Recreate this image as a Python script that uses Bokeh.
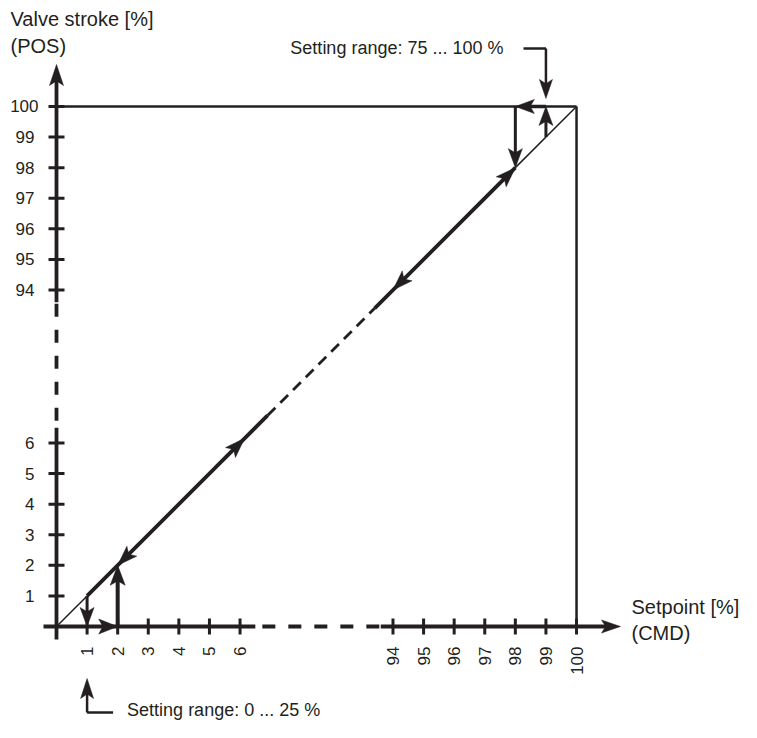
import math
from bokeh.plotting import figure
from bokeh.models import Range1d
from bokeh.core.properties import value
from bokeh.embed import file_html
from bokeh.resources import INLINE

# ----------------------------- data -----------------------------
low_ticks = [1, 2, 3, 4, 5, 6]
high_ticks = [94, 95, 96, 97, 98, 99, 100]
low_tick_labels = ["1", "2", "3", "4", "5", "6"]
high_tick_labels = ["94", "95", "96", "97", "98", "99", "100"]

# tight-closing function (CMD -> POS, in %)
low_close_cmd = 1        # below: valve driven to 0 %
low_reopen_cmd = 2       # rising CMD re-joins the characteristic here
high_open_cmd = 99       # above: valve driven to 100 %
high_return_cmd = 98     # falling CMD re-joins the characteristic here
full_stroke = 100

# broken scale: visible parts of the axes and of the characteristic
axis_break = (6.5, 93.6)
diag_break = (6.9, 93.4)

# direction arrows on the characteristic (tip positions)
diag_arrows_falling = [2, 94]
diag_arrows_rising = [6.15, 98]

x_title = ["Setpoint [%]", "(CMD)"]
y_title = ["Valve stroke [%]", "(POS)"]
note_high = "Setting range: 75 ... 100 %"
note_low = "Setting range: 0 ... 25 %"

# ----------------------------- layout / style -----------------------------
INK = "#231F20"
FONT = "Liberation Sans"
W, H = 741, 722
PX = 30.59            # screen pixels per scale step
OX, OY = 56, 626      # origin position inside the figure (px from left / top)
BREAK_SLOTS = 5
SHIFT = high_ticks[0] - (low_ticks[-1] + BREAK_SLOTS)
MID = (low_ticks[-1] + high_ticks[0]) / 2


def u(v):
    """broken-axis scale: value -> schematic position"""
    return v if v <= MID else v - SHIFT


def px(n):
    return n / PX


def sx(x):   # layout helper: screen x -> schematic units
    return (x - OX) / PX


def sy(y):   # layout helper: screen y -> schematic units
    return (OY - y) / PX


p = figure(width=W, height=H, output_backend="svg", toolbar_location=None,
           x_range=Range1d(-OX / PX, (W - OX) / PX),
           y_range=Range1d((OY - H) / PX, OY / PX),
           x_axis_type=None, y_axis_type=None, min_border=0,
           outline_line_color=None, background_fill_color="white",
           border_fill_color="white")

solid_xs, solid_ys, solid_w = [], [], []
heads_x, heads_y = [], []


def seg(x0, y0, x1, y1, w):
    solid_xs.append([x0, x1])
    solid_ys.append([y0, y1])
    solid_w.append(w)


def head(tx, ty, dx, dy, L=20, Wd=14, notch=0.78):
    n = math.hypot(dx, dy)
    dx, dy = dx / n, dy / n
    nx, ny = -dy, dx
    l, w = px(L), px(Wd) / 2
    bx, by = tx - dx * l, ty - dy * l
    heads_x.append([tx, bx + nx * w, tx - dx * l * notch, bx - nx * w])
    heads_y.append([ty, by + ny * w, ty - dy * l * notch, by - ny * w])
    return tx - dx * l * notch * 0.9, ty - dy * l * notch * 0.9


def arrow(x0, y0, x1, y1, w, L=20, Wd=14):
    ex, ey = head(x1, y1, x1 - x0, y1 - y0, L, Wd)
    seg(x0, y0, ex, ey, w)


AXW = 3.8
ax_lo, ax_hi = u(axis_break[0]), u(axis_break[1])
x_tip, y_tip = px(564), px(562)
back = px(13)

# axes (solid parts)
seg(-back, 0, ax_lo, 0, AXW)
arrow(ax_hi, 0, x_tip, 0, AXW, L=19, Wd=13)
seg(0, -back, 0, ax_lo, AXW)
arrow(0, ax_hi, 0, y_tip, AXW, L=21, Wd=14)

# ticks
all_ticks = low_ticks + high_ticks
for t in all_ticks:
    seg(u(t), -px(8), u(t), px(8), 3)
    seg(-px(8), u(t), px(8), u(t), 3)

# box at full stroke
top = u(full_stroke)
seg(0, top, top, top, 2.5)
seg(top, top, top, 0, 2.5)

# characteristic
seg(0, 0, u(low_close_cmd), u(low_close_cmd), 1.5)
seg(u(low_close_cmd), u(low_close_cmd), u(diag_break[0]), u(diag_break[0]), 3.8)
seg(u(diag_break[1]), u(diag_break[1]), u(high_return_cmd), u(high_return_cmd), 3.8)
seg(u(high_return_cmd), u(high_return_cmd), top, top, 1.5)
for t in diag_arrows_falling:
    head(u(t), u(t), -1, -1)
for t in diag_arrows_rising:
    head(u(t), u(t), 1, 1)

# low-end hysteresis
arrow(u(low_close_cmd), u(low_close_cmd), u(low_close_cmd), 0, 3, L=19, Wd=14)
head(u(low_reopen_cmd), 0, 1, 0, L=19, Wd=15)
arrow(u(low_reopen_cmd), 0, u(low_reopen_cmd), u(low_reopen_cmd), 4, L=20, Wd=15)

# high-end hysteresis
arrow(u(high_open_cmd), u(high_open_cmd), u(high_open_cmd), top, 3, L=19, Wd=14)
arrow(u(high_open_cmd), top, u(high_return_cmd), top, 3.5, L=19, Wd=14)
arrow(u(high_return_cmd), top, u(high_return_cmd), u(high_return_cmd), 3, L=19, Wd=14)

# annotation arrows
ny_top = sy(48)
tx_end = sx(503)
seg(tx_end + px(20), ny_top, u(high_open_cmd), ny_top, 2.5)
arrow(u(high_open_cmd), ny_top, u(high_open_cmd), top + px(8), 2.5, L=19, Wd=13)

ny_bot = sy(712)
seg(u(low_close_cmd), ny_bot, u(low_close_cmd) + px(26), ny_bot, 2.5)
arrow(u(low_close_cmd), ny_bot, u(low_close_cmd), sy(678), 2.5, L=20, Wd=13)

p.multi_line(xs=solid_xs, ys=solid_ys, line_width=solid_w, line_color=INK)
p.patches(xs=heads_x, ys=heads_y, fill_color=INK, line_color=INK, line_width=0.5)

# dashed (broken) parts
p.line([ax_lo, ax_hi], [0, 0], line_width=AXW, line_color=INK,
       line_dash="13 13", line_dash_offset=19)
p.line([0, 0], [ax_lo, ax_hi], line_width=AXW, line_color=INK,
       line_dash="13 13", line_dash_offset=19)
p.line([u(diag_break[0]), u(diag_break[1])], [u(diag_break[0]), u(diag_break[1])],
       line_width=2.8, line_color=INK, line_dash="11 7")

# tick labels
tick_labels = low_tick_labels + high_tick_labels
p.text(x=[u(t) for t in all_ticks], y=[-px(20)] * len(all_ticks), text=tick_labels,
       angle=math.pi / 2, text_align="right", text_baseline="middle",
       text_font=value(FONT), text_font_size=value("17px"), text_color=INK)
p.text(x=[-px(22) + (px(4) if len(s) == 3 else 0) for s in tick_labels],
       y=[u(t) for t in all_ticks], text=tick_labels,
       text_align="right", text_baseline="middle",
       text_font=value(FONT), text_font_size=value("17px"), text_color=INK)

# axis titles
p.text(x=[sx(10)] * 2, y=[sy(18.5), sy(45)], text=y_title,
       text_align="left", text_baseline="middle",
       text_font=value(FONT), text_font_size=value("20px"), text_color=INK)
p.text(x=[sx(631)] * 2, y=[sy(606), sy(632)], text=x_title,
       text_align="left", text_baseline="middle",
       text_font=value(FONT), text_font_size=value("20px"), text_color=INK)

# annotations
p.text(x=[tx_end], y=[sy(47)], text=[note_high], text_align="right",
       text_baseline="middle", text_font=value(FONT),
       text_font_size=value("18px"), text_color=INK)
p.text(x=[u(low_close_cmd) + px(40)], y=[sy(709.5)], text=[note_low],
       text_align="left", text_baseline="middle", text_font=value(FONT),
       text_font_size=value("18px"), text_color=INK)

open("out.html", "w").write(file_html(p, INLINE))
